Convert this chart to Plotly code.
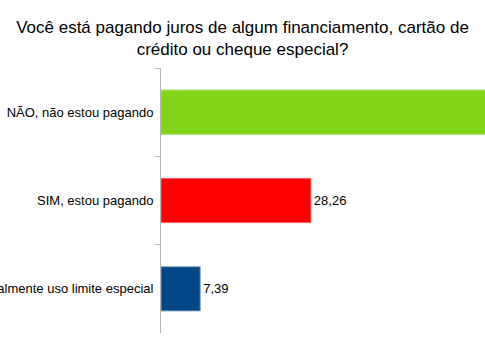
import plotly.graph_objects as go

# Survey answers and percentages
categories = ["NÃO, não estou pagando", "SIM, estou pagando", "Eventualmente uso limite especial"]
values = [64.35, 28.26, 7.39]
bar_colors = ["#81d41a", "#ff0000", "#004586"]
edge_colors = ["#a6e05e", "#ff5a5a", "#7f9fc0"]

labels = [f"{v:.2f}".replace(".", ",") for v in values]
# the first bar runs past the right edge, so its value label is not drawn
label_positions = ["none", "outside", "outside"]

fig = go.Figure(
    go.Bar(
        x=values,
        y=categories,
        orientation="h",
        marker=dict(color=bar_colors, line=dict(color=edge_colors, width=1)),
        text=labels,
        textposition=label_positions,
        textfont=dict(family="Liberation Sans", size=13, color="#000000"),
        cliponaxis=True,
        width=0.5,
    )
)

fig.update_layout(
    width=485,
    height=340,
    margin=dict(l=161, r=0, t=68, b=7),
    paper_bgcolor="white",
    plot_bgcolor="white",
    separators=",.",
    showlegend=False,
    font=dict(family="Liberation Sans", size=13, color="#000000"),
    title=dict(
        text="Você está pagando juros de algum financiamento, cartão de<br>crédito ou cheque especial?",
        x=0.5,
        xanchor="center",
        y=0.903,
        yanchor="middle",
        font=dict(family="Liberation Sans", size=17, color="#000000"),
    ),
    xaxis=dict(
        range=[0, 61.1],
        showgrid=False,
        showline=False,
        zeroline=False,
        showticklabels=False,
        ticks="",
    ),
    yaxis=dict(
        autorange="reversed",
        showline=True,
        linecolor="#b3b3b3",
        linewidth=1,
        ticks="outside",
        tickson="boundaries",
        ticklen=5,
        tickcolor="#b3b3b3",
        ticklabelstandoff=4,
        showgrid=False,
        automargin=False,
        tickfont=dict(family="Liberation Sans", size=13, color="#000000"),
    ),
)

fig.write_html("out.html")
